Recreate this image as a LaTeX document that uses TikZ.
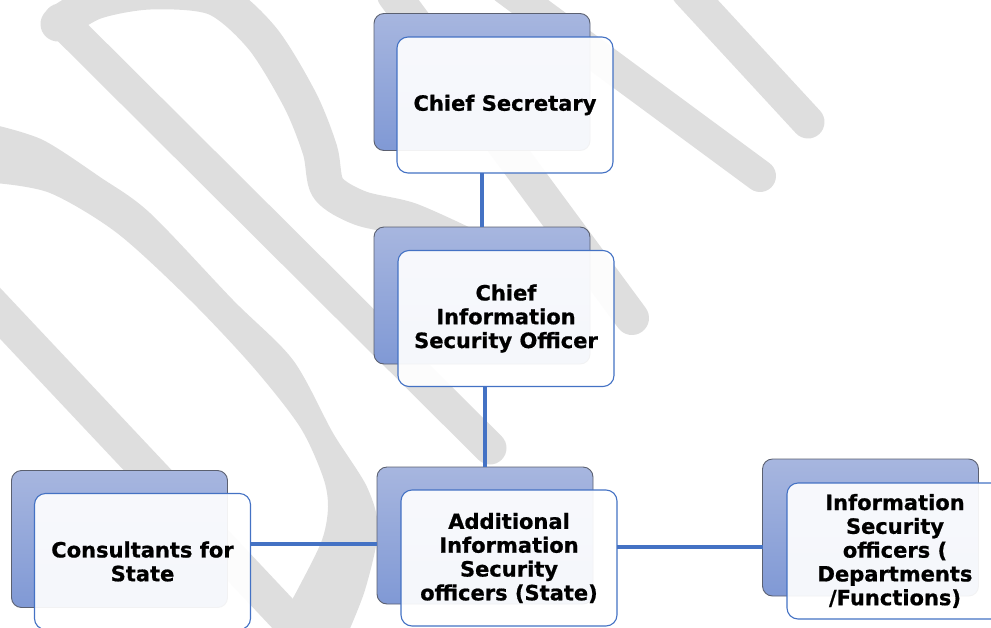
\documentclass[tikz,border=0pt]{standalone}
\usepackage{fontspec}
\setmainfont{DejaVu Sans}[BoldFeatures={FakeBold=0.8}]
\definecolor{wm}{HTML}{DEDEDE}
\definecolor{conn}{HTML}{4472C4}
\definecolor{btop}{HTML}{A7B6DF}
\definecolor{bbot}{HTML}{8099D5}
\definecolor{bedge}{HTML}{5B6070}
\begin{document}
\begin{tikzpicture}[x=1pt,y=-1pt,
  wmline/.style={draw=wm,line cap=round,line join=round},
  backbox/.style={rectangle,rounded corners=10pt,draw=bedge,line width=0.9pt,top color=btop,bottom color=bbot,minimum width=216pt,minimum height=137pt,inner sep=0pt,outer sep=0pt},
  frontbox/.style={rectangle,rounded corners=11pt,draw=conn,line width=1.1pt,fill=white,fill opacity=0.92,text opacity=1,minimum width=216pt,minimum height=136pt,inner sep=0pt,outer sep=0pt,align=center,font=\bfseries\fontsize{21}{23.8}\selectfont},
  link/.style={draw=conn,line width=3.4pt}]
\useasboundingbox (0,0) rectangle (991,627);
\clip (0,0) rectangle (991,627);
% watermark
\draw[wmline,line width=33pt] (60,20) -- (490,448);
\draw[wmline,line width=35pt] plot[smooth] coordinates {(58,24) (95,2) (150,-8) (215,-2) (262,38) (300,100) (320,150) (328,188) (360,208) (410,220) (470,247)};
\draw[wmline,line width=34pt] (394,-5) -- (632,318);
\draw[wmline,line width=32pt] (505,-12) -- (760,176);
\draw[wmline,line width=33pt] (688,-8) -- (808,122);
\fill[wm] plot[smooth] coordinates {(-5,125) (43,140) (100,177) (150,213) (233,300) (293,360) (333,433) (367,487) (378,530) (365,590) (345,640)}
  -- plot[smooth] coordinates {(270,640) (300,585) (322,540) (328,507) (323,477) (300,427) (253,367) (190,300) (117,233) (50,193) (-5,183)} -- cycle;
\draw[wmline,line width=35pt] (-20,292) -- (300,632);
% boxes
\node[backbox] (csB) at (482,82) {};
\node[frontbox] (csF) at (505,105) {Chief Secretary};
\node[backbox] (cisoB) at (482,295.5) {};
\node[frontbox] (cisoF) at (506,318.5) {Chief\\Information\\Security Officer};
\node[backbox] (aisoB) at (485,535.5) {};
\node[frontbox] (aisoF) at (509,558) {Additional\\Information\\Security\\officers (State)};
\node[backbox] (consB) at (119.5,539) {};
\node[frontbox] (consF) at (142.5,561.5) {Consultants for\\State};
\node[backbox] (isoB) at (870.5,527.5) {};
\node[frontbox] (isoF) at (895,551) {Information\\Security\\officers (\\Departments\\/Functions)};
% connectors
\draw[link] (csB.center |- csF.south) -- (cisoB.north);
\draw[link] (aisoB.center |- cisoF.south) -- (aisoB.north);
\draw[link] (consF.east |- 0,544) -- (aisoB.west |- 0,544);
\draw[link] (aisoF.east |- 0,547) -- (isoB.west |- 0,547);
\end{tikzpicture}
\end{document}
